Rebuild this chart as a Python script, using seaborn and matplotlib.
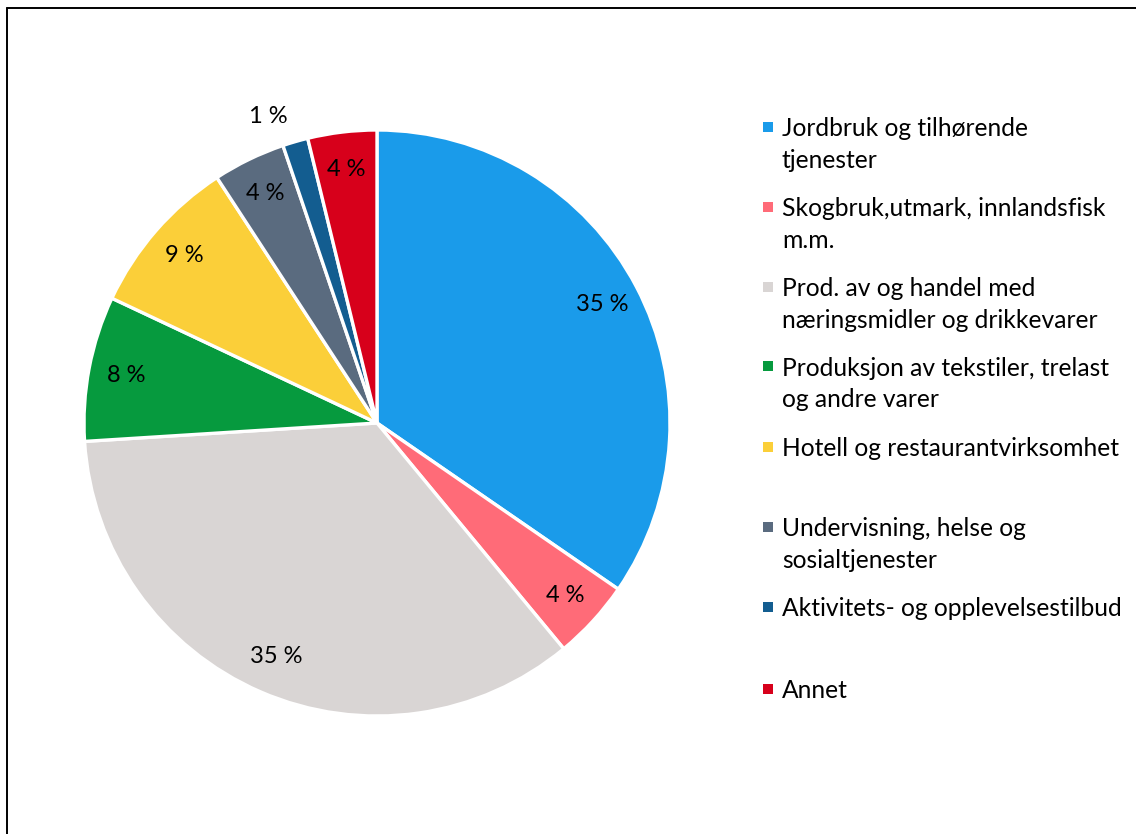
import matplotlib
matplotlib.use("Agg")
import matplotlib.pyplot as plt
from matplotlib.patches import Rectangle
from matplotlib.lines import Line2D
import numpy as np
import seaborn as sns

# Share of value creation by sector (percent)
categories = [
    "Jordbruk og tilhørende\ntjenester",
    "Skogbruk,utmark, innlandsfisk\nm.m.",
    "Prod. av og handel med\nnæringsmidler og drikkevarer",
    "Produksjon av tekstiler, trelast\nog andre varer",
    "Hotell og restaurantvirksomhet",
    "Undervisning, helse og\nsosialtjenester",
    "Aktivitets- og opplevelsestilbud",
    "Annet",
]
shares = [34.6, 4.4, 35.0, 8.0, 8.8, 4.0, 1.4, 3.8]
colors = ["#1A9BEA", "#FF6B78", "#D9D5D4", "#069A3E",
          "#FBCF39", "#5A6B7F", "#135D90", "#D7001B"]

sns.set_theme(style="white")
plt.rcParams["font.family"] = ["Lato", "DejaVu Sans"]
palette = sns.color_palette(colors)

W, H = 1136, 834
fig = plt.figure(figsize=(W / 100, H / 100), dpi=100)

# Pie axes: centre (377, 423) px, radius 293 px
cx, cy, r = 377, 423, 293
ax = fig.add_axes([(cx - r) / W, (H - cy - r) / H, 2 * r / W, 2 * r / H])

wedges, texts, autotexts = ax.pie(
    shares,
    colors=palette,
    startangle=90,
    counterclock=False,
    autopct=lambda p: f"{round(p):.0f} %",
    pctdistance=0.87,
    wedgeprops=dict(edgecolor="white", linewidth=2.4),
    textprops=dict(fontsize=17, color="black"),
)
ax.set_xlim(-1, 1)
ax.set_ylim(-1, 1)
ax.set_aspect("equal")
ax.axis("off")

# The tiny slice gets its label placed outside the pie
autotexts[6].set_position((-0.37, 1.045))

# Legend drawn as square markers with wrapped labels
legend_y = [127, 207, 287, 366, 447, 527, 607, 689]
mx, tx = 768, 782
for col, lab, y in zip(palette, categories, legend_y):
    fig.patches.append(Rectangle(((mx - 5) / W, (H - y - 5) / H), 10 / W, 10 / H,
                                 transform=fig.transFigure, facecolor=col,
                                 edgecolor="none"))
    fig.text(tx / W, (H - y) / H, lab.split("\n")[0], fontsize=17.7, color="black",
             va="center_baseline", ha="left")
    if "\n" in lab:
        fig.text(tx / W, (H - y - 31) / H, lab.split("\n")[1], fontsize=17.7,
                 color="black", va="center_baseline", ha="left")

# Outer frame (left and top edges visible)
fig.lines.append(Line2D([7 / W, 7 / W], [0, (H - 8) / H], transform=fig.transFigure,
                        color="black", linewidth=1.4))
fig.lines.append(Line2D([7 / W, 1], [(H - 8) / H, (H - 8) / H], transform=fig.transFigure,
                        color="black", linewidth=1.4))

fig.savefig("out.png", dpi=100, facecolor="white")
